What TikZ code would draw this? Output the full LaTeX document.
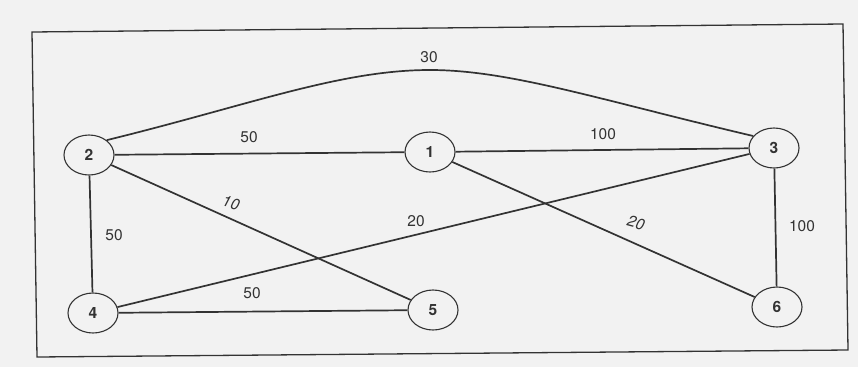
\documentclass[tikz,border=0pt]{standalone}
\usepackage{fontspec}
\setmainfont{TeX Gyre Heros}
\usetikzlibrary{shapes.geometric}
\definecolor{paper}{gray}{0.95}
\definecolor{ink}{gray}{0.2}
\tikzset{
  vert/.style={ellipse, draw=ink, line width=1.1pt, fill=paper, minimum width=50pt, minimum height=40pt, inner sep=0pt, font=\fontsize{15.5}{18}\selectfont\bfseries, text=ink},
  edge/.style={draw=ink, line width=1.7pt},
  wt/.style={font=\fontsize{15.5}{18}\selectfont, text=ink, inner sep=0.5pt},
  wti/.style={wt, font=\fontsize{15.5}{18}\selectfont\itshape},
}
\begin{document}
\begin{tikzpicture}[x=1pt, y=-1pt]
\fill[paper] (0,0) rectangle (858,367);
\useasboundingbox (0,0) rectangle (858,367);
\draw[ink, line width=1.3pt] (32,32) -- (843,24) -- (848,350) -- (37,357) -- cycle;
\node[vert] (n2) at (89,155) {2};
\node[vert] (n1) at (430,152) {1};
\node[vert] (n3) at (774,148) {3};
\node[vert] (n4) at (93,313) {4};
\node[vert] (n5) at (433,310) {5};
\node[vert] (n6) at (777,307) {6};
\coordinate (top) at (430,70);
\draw[edge] (n2) -- (n1);
\draw[edge] (n1) -- (n3);
\draw[edge] (n2) -- (n4);
\draw[edge] (n2) -- (n5);
\draw[edge] (n4) -- (n5);
\draw[edge] (n4) -- (n3);
\draw[edge] (n1) -- (n6);
\draw[edge] (n3) -- (n6);
\draw[edge] (n2.40) .. controls (250,105) and (340,70) .. (top)
  .. controls (510,70) and (600,100) .. (n3.150);
\node[wt] (l30) at (429,57) {30};
\node[wt] (l21) at (249,137) {50};
\node[wt] (l13) at (603,134) {100};
\node[wti, rotate=-15] (l25) at (231,203) {10};
\node[wt] (l24) at (114,235) {50};
\node[wt] (l43) at (416,221) {20};
\node[wt] (l45) at (252,293) {50};
\node[wti, rotate=-15] (l16) at (636,223) {20};
\node[wt] (l36) at (802,226) {100};
\end{tikzpicture}
\end{document}
